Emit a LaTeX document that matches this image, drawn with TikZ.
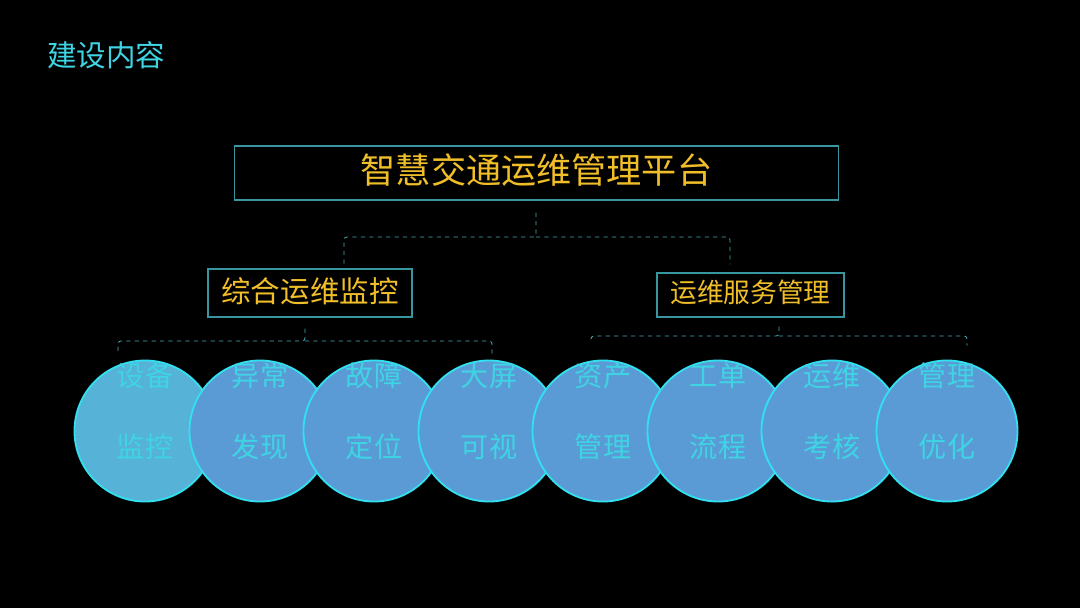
\documentclass[tikz,border=0pt]{standalone}
\usepackage{fontspec}
\setmainfont{Noto Sans CJK SC}
\usetikzlibrary{positioning, calc}
\definecolor{tcyan}{RGB}{62,212,228}
\definecolor{tgold}{RGB}{240,190,40}
\definecolor{tline}{RGB}{55,150,160}
\definecolor{tdash}{RGB}{70,170,180}
\definecolor{tball}{RGB}{91,155,213}
\definecolor{tfirst}{RGB}{86,178,214}
\definecolor{tedge}{RGB}{50,225,240}

\begin{document}
\begin{tikzpicture}[x=0.025cm,y=-0.025cm,
  box/.style={draw=tline, line width=0.8pt, text=tgold, inner sep=0pt},
  link/.style={draw=tdash, dashed, line width=0.6pt, rounded corners=2pt},
  ball/.style={circle, draw=tedge, line width=1.3pt, minimum size=3.525cm, inner sep=0pt},
  balltext/.style={text=tcyan, inner sep=0pt, font=\fontsize{20}{24}\selectfont}]

%background
\fill[black] (0,0) rectangle (1080,608);
\useasboundingbox (0,0) rectangle (1080,608);

\node[anchor=west, text=tcyan, inner sep=0pt, font=\fontsize{21}{25}\selectfont] (heading) at (47,55) {建设内容};

%boxes
\node[box, minimum width=15.075cm, minimum height=1.35cm, font=\fontsize{25}{30}\selectfont] (title) at (536.5,173) {\raisebox{6.5pt}{智慧交通运维管理平台}};
\node[box, minimum width=5.1cm, minimum height=1.2cm, font=\fontsize{21}{25}\selectfont] (monitor) at (310,293) {\raisebox{4.5pt}{综合运维监控}};
\node[box, minimum width=4.675cm, minimum height=1.1cm, font=\fontsize{19}{23}\selectfont] (service) at (750.5,295) {\raisebox{5pt}{运维服务管理}};

%circles
\foreach \cx/\cc/\lineA/\lineB [count=\n] in {145/tfirst/设备/监控, 260/tball/异常/发现, 374/tball/故障/定位, 489/tball/大屏/可视, 603/tball/资产/管理, 718/tball/工单/流程, 832/tball/运维/考核, 947/tball/管理/优化}{
  \node[ball, fill=\cc] (b\n) at (\cx,431) {};
  \node[balltext] (t\n) at (\cx,376) {\lineA};
  \node[balltext] (s\n) at (\cx,447) {\lineB};
}

%connectors
\coordinate (split) at (536,237);
\draw[link] ($(title.south)+(-0.5,12)$) -- (split) -| ($(monitor.north)+(34,-4)$);
\draw[link] (split) -| ($(service.north)+(-20.5,-8)$);

\coordinate (msplit) at (305,341);
\draw[link] ($(monitor.south)+(-5,11)$) -- (msplit) -| ($(b1.north)+(-27,-8)$);
\draw[link] (msplit) -| ($(b4.north)+(3,-4)$);

\coordinate (ssplit) at (779,336);
\draw[link] ($(service.south)+(28.5,9)$) -- (ssplit) -| ($(b5.north)+(-12,-16)$);
\draw[link] (ssplit) -| ($(b8.north)+(20,-14)$);

\end{tikzpicture}
\end{document}
